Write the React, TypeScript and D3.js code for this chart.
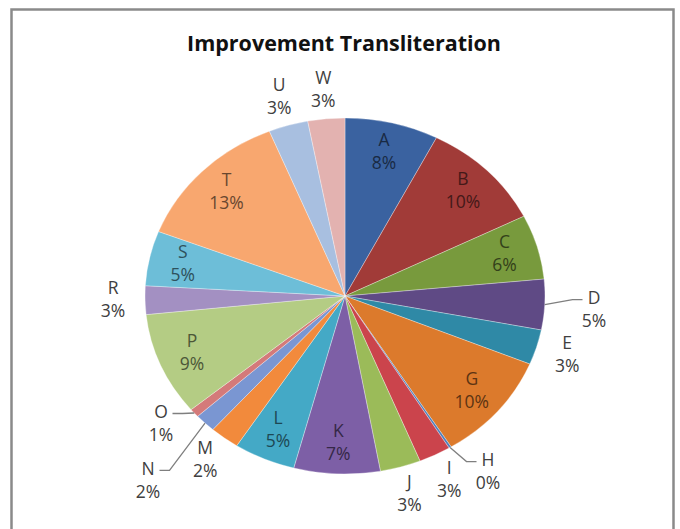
import React, { useEffect, useRef } from "react";
import * as d3 from "d3";

// slice names and values (F, Q and V are not in the chart)
const names = ["A", "B", "C", "D", "E", "G", "H", "I", "J", "K", "L", "M", "N", "O", "P", "R", "S", "T", "U", "W"];
const values = [7.6, 10.1, 5.9, 4.6, 3.2, 9.9, 0.2, 2.6, 3.3, 7.0, 5.0, 2.4, 1.7, 0.8, 9.4, 2.6, 5.0, 13.0, 3.2, 3.0];
const colors = [
  "#3A62A0", "#A13B38", "#789A3D", "#5F4A85", "#2F89A6", "#DC7A2C",
  "#4F81BD", "#CB444C", "#9BBB59", "#7D5FA6", "#44A9C6", "#F28A3C",
  "#7A96D2", "#D47A7A", "#B4CC84", "#A390C2", "#6DBED8", "#F8A76F",
  "#A8BFE0", "#E3B2B0",
];

// which labels sit inside the slices, and where the ones with leader lines go
const insideLabels = ["A", "B", "C", "G", "K", "L", "P", "S", "T"];
const leaderLabels: Record<string, [number, number]> = {
  D: [1.245, -0.02],
  H: [0.715, -0.93],
  O: [-0.92, -0.66],
  N: [-0.985, -0.98],
};

const W = 680;
const H = 529;

export default function App() {
  const ref = useRef<SVGSVGElement>(null);

  useEffect(() => {
    const svg = d3.select(ref.current);
    svg.selectAll("*").remove();

    const cx = 345;
    const cy = 296;
    const rx = 200;
    const ry = 178;
    const font = "'Open Sans', Lato, sans-serif";

    svg.append("rect")
      .attr("x", 11.5).attr("y", 9.5)
      .attr("width", 662).attr("height", 540)
      .attr("fill", "#fff")
      .attr("stroke", "#8a8a8a")
      .attr("stroke-width", 2.5);

    svg.append("text")
      .attr("x", 344).attr("y", 45)
      .attr("text-anchor", "middle")
      .attr("dominant-baseline", "middle")
      .style("font", `bold 21.5px ${font}`)
      .attr("fill", "#111")
      .text("Improvement Transliteration");

    const total = d3.sum(values);
    const pie = d3.pie<number>().sort(null).value(d => d);
    const arcs = pie(values);
    const arc = d3.arc<d3.PieArcDatum<number>>().innerRadius(0).outerRadius(ry);

    // the pie in the picture is an ellipse, so squash a circle
    svg.append("g")
      .attr("transform", `translate(${cx},${cy}) scale(${rx / ry},1)`)
      .selectAll("path")
      .data(arcs)
      .join("path")
      .attr("d", arc)
      .attr("fill", (d, i) => colors[i])
      .attr("stroke", "#fff")
      .attr("stroke-opacity", 0.4)
      .attr("stroke-width", 0.8)
      .attr("vector-effect", "non-scaling-stroke");

    const pt = (a: number, r: number): [number, number] => [
      cx + rx * r * Math.sin(a),
      cy - ry * r * Math.cos(a),
    ];

    const labels = svg.append("g").style("font", `17.5px ${font}`);
    const gap = 11.5;

    arcs.forEach((d, i) => {
      const name = names[i];
      const mid = (d.startAngle + d.endAngle) / 2;
      const pct = Math.round((d.value / total) * 100) + "%";
      let x: number;
      let y: number;
      let fill = "#404040";

      if (leaderLabels[name]) {
        const [nx, ny] = leaderLabels[name];
        x = cx + rx * nx;
        y = cy - ry * ny;
        const side = nx > 0 ? 1 : -1;
        const [px, py] = pt(mid, 1);
        const end = x - side * gap;
        const elbow = end - side * 10;
        labels.append("path")
          .attr("d", d3.line()([[px, py], [elbow, y], [end, y]]))
          .attr("fill", "none")
          .attr("stroke", "#7f7f7f")
          .attr("stroke-width", 1.3);
        y += gap;
      } else if (insideLabels.includes(name)) {
        [x, y] = pt(mid, 0.83);
        fill = d3.color(colors[i])!.darker(2.4).formatHex();
      } else {
        [x, y] = pt(mid, 1.16);
      }

      labels.append("text")
        .attr("x", x).attr("y", y - gap)
        .attr("text-anchor", "middle")
        .attr("dominant-baseline", "middle")
        .attr("fill", fill)
        .text(name);
      labels.append("text")
        .attr("x", x).attr("y", y + gap)
        .attr("text-anchor", "middle")
        .attr("dominant-baseline", "middle")
        .attr("fill", fill)
        .text(pct);
    });
  }, []);

  return (
    <svg
      ref={ref}
      width={W}
      height={H}
      style={{ position: "absolute", left: 0, top: 0, background: "#fff" }}
    />
  );
}
